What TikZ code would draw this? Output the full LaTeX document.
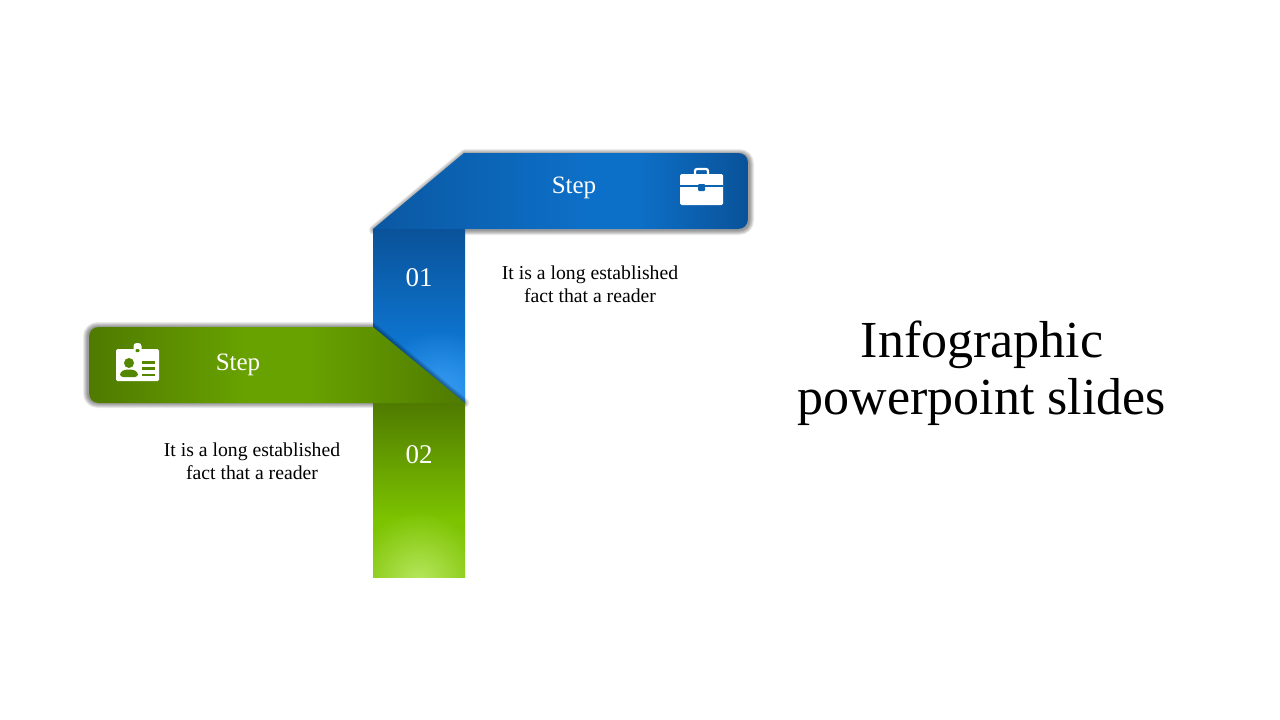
\documentclass[tikz,border=0pt]{standalone}
\usepackage{fontspec}
\setmainfont{Liberation Serif}
\usetikzlibrary{fadings}
\definecolor{bA}{HTML}{0A5299}
\definecolor{bB}{HTML}{0D70C8}
\definecolor{bBright}{HTML}{1085EA}
\definecolor{bGlow}{HTML}{3A9CF0}
\definecolor{gA}{HTML}{4F7A00}
\definecolor{gB}{HTML}{68A200}
\definecolor{gD}{HTML}{7CC300}
\definecolor{gGlow}{HTML}{B8E860}
\definecolor{iconB}{HTML}{0B62B0}
\definecolor{iconG}{HTML}{558600}
\pgfdeclarehorizontalshading{blueband}{100bp}{
 color(0bp)=(bA!80!bB); color(25bp)=(bA!80!bB); color(54bp)=(bB); color(60bp)=(bB); color(75bp)=(bA); color(100bp)=(bA)}
\pgfdeclarehorizontalshading{greenband}{100bp}{
 color(0bp)=(gA); color(25bp)=(gA); color(46bp)=(gB); color(54bp)=(gB); color(75bp)=(gA); color(100bp)=(gA)}
\pgfdeclareverticalshading{bluecol}{100bp}{
 color(0bp)=(bBright); color(25bp)=(bBright); color(47bp)=(bB); color(75bp)=(bA); color(100bp)=(bA)}
\pgfdeclareverticalshading{greencol}{100bp}{
 color(0bp)=(gD); color(25bp)=(gD); color(42bp)=(gD); color(75bp)=(gA); color(100bp)=(gA)}
\tikzfading[name=glowfade, inner color=transparent!0, outer color=transparent!100]
\tikzset{
  softshadow/.style={black,opacity=.07,line join=round},
  steptext/.style={white,font=\fontsize{25}{25}\selectfont,inner sep=0pt},
  bodytext/.style={black,font=\fontsize{19.7}{23}\selectfont,align=center,inner sep=0pt},
  titletext/.style={black,font=\fontsize{52}{57}\selectfont,align=center,inner sep=0pt},
  colnum/.style={white,font=\fontsize{27}{27}\selectfont,inner sep=0pt}
}
\def\bluebandpath{(373,229) -- (464,153) -- (738,153) .. controls (744,153) and (748,157) .. (748,163) -- (748,219) .. controls (748,225) and (744,229) .. (738,229) -- cycle}
\def\greenbandpath{(465,403) -- (373,327) -- (99,327) .. controls (93,327) and (89,331) .. (89,337) -- (89,393) .. controls (89,399) and (93,403) .. (99,403) -- cycle}
\begin{document}
\begin{tikzpicture}[x=1pt,y=-1pt]
\useasboundingbox (0,0) rectangle (1280,720);
\fill[white] (0,0) rectangle (1280,720);
% blue band with shadow
\foreach \w in {1,2.5,4,5.5,7,8.5,10}{\draw[softshadow,line width=\w pt,shift={(1,1)}] \bluebandpath;}
\path[shading=blueband] \bluebandpath;
% blue column
\path[shading=bluecol] (373,229) rectangle (465,403);
\begin{scope}
\clip (373,229) rectangle (465,403);
\fill[bGlow,path fading=glowfade] (375,330) rectangle (505,460);
\end{scope}
% green band shadow
\foreach \w in {1,2.5,4,5.5,7,8.5,10}{\draw[softshadow,line width=\w pt,shift={(-1,0)}] \greenbandpath;}
% green column
\path[shading=greencol] (373,403) rectangle (465,577.6);
\begin{scope}
\clip (373,403) rectangle (465,577.6);
\fill[gGlow,path fading=glowfade] (349,512) rectangle (489,652);
\end{scope}
\path[shading=greenband] \greenbandpath;
% briefcase
\fill[white,rounded corners=1.5pt] (680,174) rectangle (723,205);
\draw[white,line width=2.2pt,rounded corners=2pt] (695,175) -- (695,169) -- (708,169) -- (708,175);
\draw[iconB,line width=1.6pt] (680,186) -- (723,186);
\fill[iconB,rounded corners=1pt] (698,184) rectangle (705,191);
% id card
\fill[white,rounded corners=1.5pt] (116,349) rectangle (159,381);
\fill[white,rounded corners=3pt] (133.5,343) rectangle (141.5,354);
\fill[iconG,rounded corners=1pt] (135.5,349) rectangle (139.5,352);
\fill[iconG] (129,363) circle[radius=5];
\fill[iconG,rounded corners=3pt] (120,377) -- (120,372) -- (125,369.5) -- (133,369.5) -- (138,372) -- (138,377) -- cycle;
\fill[iconG] (142,361) rectangle (155,363.5);
\fill[iconG] (142,367) rectangle (155,369.5);
\fill[iconG] (142,373.5) rectangle (155,376);
% texts
\node[steptext] (step1) at (574,187.5) {Step};
\node[colnum] (num1) at (419,278) {01};
\node[bodytext] (body1) at (590,284) {It is a long established\\fact that a reader};
\node[steptext] (step2) at (238,364.5) {Step};
\node[colnum] (num2) at (419,455) {02};
\node[bodytext] (body2) at (252,461) {It is a long established\\fact that a reader};
\node[titletext] (title) at (982,373) {Infographic\\powerpoint slides};
\end{tikzpicture}
\end{document}
